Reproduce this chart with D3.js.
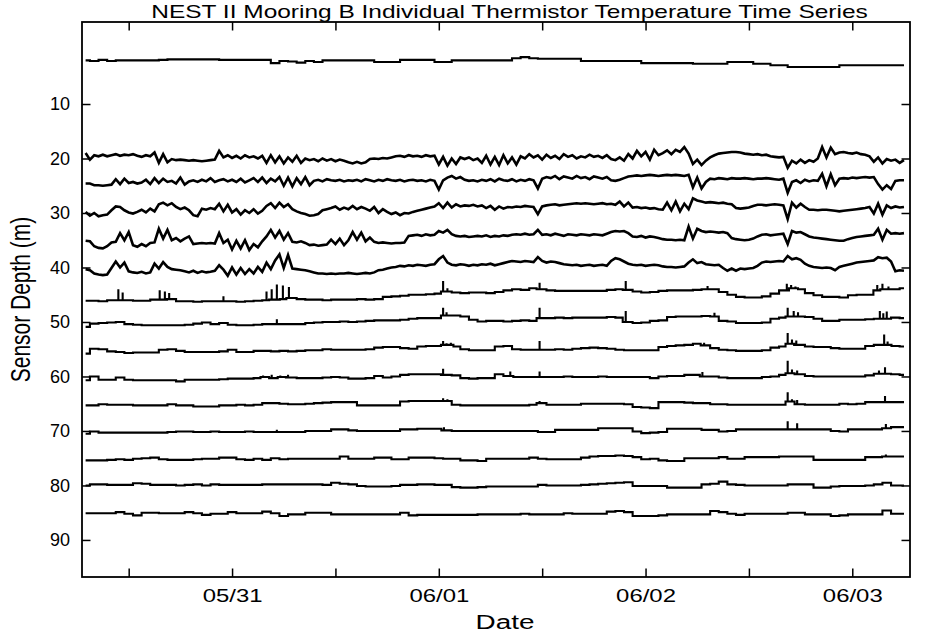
<!DOCTYPE html>
<html><head><meta charset="utf-8">
<script src="https://cdn.jsdelivr.net/npm/d3@7"></script>
<style>
body{margin:0;background:#fff}
svg{display:block}
text{font-family:"Liberation Sans",Arial,Helvetica,sans-serif;fill:#000}
</style>
</head><body>
<svg id="chart" width="930" height="635"></svg>
<script>
// ---------- text ----------
const chartTitle = "NEST II Mooring B Individual Thermistor Temperature Time Series";
const xLabel = "Date";
const yLabel = "Sensor Depth (m)";
const depthTicks = [10, 20, 30, 40, 50, 60, 70, 80, 90];
const dateTickFormat = "%m/%d";

// ---------- time axis (hours after 05/30 00:00) ----------
const axisStartHour = 6.58, axisEndHour = 102.7;
const gridStartHour = 7, gridEndHour = 102;   // each series spans this interval, evenly sampled
const depthDomain = [-5.05, 96.8];

// ---------- line levels (m) ----------
const sensorDepths = [1.9, 20.6, 25.5, 30.3, 35.5, 40.3, 45.0, 49.6, 54.8, 59.9, 64.9, 69.7, 75.0, 80.0, 85.4];
// noisy upper sensors are sampled every half hour and drawn as a plain line;
// the quieter ones are sampled hourly (quantised steps) with separate short spikes [hour, peak]
const noisySeries = [false, true, true, true, true, true, false, false, false, false, false, false, false, false, false];

// ---------- line deviations from level, in decimetres (+ = deeper) ----------
const dev02 = [1,2,0,2,1,1,1,1,1,0,-1,-1,-1,-1,-1,-1,0,0,0,0,0,0,6,2,3,5,2,4,1,1,1,1,1,1,4,4,4,0,0,0,0,4,4,1,1,1,1,1,1,1,-3,-5,-3,-2,-2,-2,-2,-2,2,2,2,2,2,2,2,6,6,6,6,6,6,7,7,7,7,4,4,4,7,7,10,10,13,13,13,13,13,13,10,10,10,10,10,10,10,10];
const dev20 = [-16,-4,-12,-10,-13,-10,-12,-14,-11,-13,
-12,-14,-11,-9,-12,-10,-17,2,-14,1,
-5,-3,-4,-3,-2,-3,-2,-1,-2,-3,
-4,-20,-8,-12,-7,-11,-6,-12,-8,-10,
-6,-11,2,-12,1,-10,3,-8,0,-11,
2,-6,-3,-5,-1,-6,-2,-5,-1,-4,
-2,1,3,0,3,1,-5,-6,-5,-7,
-6,-8,-10,-11,-9,-12,-10,-11,-9,-12,
-10,-11,5,-9,7,-6,4,-8,-5,-8,
-3,-6,2,-11,5,-9,6,-12,3,-8,
5,-10,-6,-14,-8,-12,-4,-13,-7,-11,
-5,-14,-9,-12,-6,-10,-8,-13,-9,-11,
-7,-12,-5,-3,-8,-2,-14,-6,-20,-10,
-18,-4,-22,-12,-16,-21,-14,-22,-18,-27,
-15,4,-4,6,-2,-8,-12,-15,-16,-17,
-18,-18,-17,-15,-14,-13,-14,-12,-13,-10,
-9,-8,-9,11,-2,3,-4,2,-3,0,
-6,-27,-8,-26,-14,-17,-18,-16,-15,-17,
-14,-13,-10,0,-8,3,-5,-2,-4,2,
-3];
const dev25 = [-9,-9,-6,-6,-5,-6,-7,-17,-8,-18,
-10,-12,-9,-11,-16,-8,-19,-10,-18,-12,
-14,-9,-20,-7,-13,-15,-12,-16,-13,-19,
-12,-15,-17,-13,-16,-12,-18,-11,-15,-19,
-12,-20,-10,-18,-13,-21,-5,-20,-4,-19,
-8,-21,-6,-14,-16,-13,-17,-15,-14,-16,
-13,-15,-14,-16,-13,-17,-15,-13,-16,-14,
-17,-15,-14,-16,-13,-15,-16,-14,-15,-13,
-16,-14,2,-15,-20,-23,-18,-21,-16,-14,
-15,-13,-16,-14,-17,-13,-18,-15,-14,-17,
-13,-16,-14,-17,-15,0,-18,-21,-19,-23,
-17,-22,-20,-18,-23,-19,-21,-17,-22,-20,
-18,-21,-15,-14,-16,-19,-22,-23,-24,-23,
-24,-25,-24,-23,-24,-25,-24,-25,-24,-23,
-25,-2,-20,0,-12,-18,-17,-19,-18,-17,
-19,-18,-18,-19,-18,-17,-18,-18,-19,-18,
-17,-16,-18,8,-12,-15,-10,-16,-13,-15,
-14,-27,-4,-26,-6,-18,-19,-18,-20,-19,
-20,-21,-20,-21,-8,2,-6,1,-14,-15,
-15];
const dev30 = [-5,2,-3,3,1,0,-8,-15,-14,-8,
-4,-2,-5,-9,-4,-11,-6,-19,-22,-17,
-21,-14,-10,-13,-8,1,3,-11,-9,-12,
-10,-20,-6,-18,-4,-10,0,-8,-3,-10,
-2,-7,-16,-21,-12,-22,-14,-19,-10,-6,
-3,-1,2,1,-1,-8,-10,-12,-15,-9,
-13,-10,-16,-10,-14,-11,-7,-14,-3,-10,
-5,-1,-4,1,-3,-2,-5,-7,-9,-11,
-13,-15,-21,-12,-22,-13,-19,-15,-17,-16,
-18,-15,-17,-12,-16,-9,-15,-11,-14,-13,
-15,-14,-16,-15,-14,-1,-15,-17,-18,-19,
-17,-18,-19,-20,-21,-20,-21,-20,-19,-20,
-21,-19,-20,-18,-24,-15,-22,-13,-14,-12,
-13,-11,-12,-10,-9,-22,-8,-24,-6,-20,
-10,-30,-26,-24,-22,-23,-22,-21,-22,-20,
-19,-12,-11,-12,-13,-16,-18,-18,-17,-18,
-19,-18,-17,8,-22,-13,-20,-14,-9,-9,
-8,-9,-9,-8,-7,-6,-7,-8,-9,-10,
-11,-12,-14,-2,-20,0,-17,-12,-15,-13,
-14];
const dev35 = [-4,-3,6,9,10,6,-1,-2,-18,-5,
-20,4,7,2,6,0,-1,-26,-8,-24,
-5,-9,-3,-8,-12,2,1,0,1,0,
1,-18,0,-6,12,-4,10,-5,13,2,
8,-3,-12,-24,-10,-22,-6,-18,-2,-1,
-3,0,4,3,5,4,3,-6,2,-8,
4,-5,-20,-6,-19,-3,-10,-2,0,-1,
0,1,0,0,-1,-13,-14,-15,-13,-16,
-14,-15,-22,-19,-24,-16,-13,-12,-13,-11,
-12,-13,-12,-14,-11,-13,-12,-14,-13,-15,
-16,-15,-17,-15,-16,-24,-15,-16,-14,-17,
-15,-13,-16,-15,-14,-16,-15,-14,-16,-15,
-14,-17,-20,-22,-21,-22,-18,-12,-11,-13,
-10,-12,-11,-9,-7,-6,-6,-5,-6,-5,
-30,-8,-26,-22,-20,-21,-20,-19,-20,-18,
-9,-7,-6,-5,-6,-8,-12,-15,-16,-14,
-15,-16,-17,2,-22,-19,-20,-16,-12,-10,
-9,-8,-7,-6,-5,-4,-4,-7,-9,-11,
-12,-13,-14,-15,-26,-6,-24,-17,-18,-17,
-18];
const dev40 = [0,2,8,10,11,10,-2,-14,-3,-12,
4,6,7,5,8,6,-10,-1,-13,-4,
0,1,2,4,6,3,7,4,6,5,
3,-7,1,12,-3,10,-2,9,0,8,
-4,5,-12,0,-16,-27,-2,-26,-1,0,
1,2,4,6,8,8,9,8,9,8,
8,7,8,9,8,7,8,6,2,1,
-1,-3,-4,-6,-5,-7,-6,-8,-7,-6,
-8,-9,-18,-24,-12,-8,-7,-9,-8,-6,
-8,-7,-9,-8,-10,-7,-9,-11,-13,-15,
-14,-13,-15,-14,-13,-22,-15,-12,-14,-13,
-11,-9,-8,-7,-8,-6,-7,-8,-6,-7,
-8,-6,-15,-20,-18,-14,-10,-8,-7,-8,
-6,-7,-8,-7,-5,-4,-4,-3,-4,-5,
-12,-18,-11,-13,-9,-8,-7,-8,-2,3,
-1,3,-1,0,-1,-2,-6,-12,-14,-13,
-14,-15,-14,-24,-18,-20,-17,-10,-6,-4,
-3,-2,-3,-2,2,-4,-6,-8,-10,-12,
-13,-14,-15,-16,-22,-20,-21,-14,4,2,
3];
const dev45 = [11,11,12,10,10,10,11,11,9,9,8,12,12,13,12,12,12,12,13,12,11,10,9,8,6,8,9,9,10,9,9,9,8,9,8,4,3,2,0,0,-1,-2,-6,-4,-3,-4,-4,-3,-5,-8,-10,-9,-12,-10,-8,-7,-7,-7,-7,-7,-7,-9,-10,-9,-6,-4,-5,-7,-8,-8,-8,-9,-10,-10,-5,0,4,5,5,3,-2,-8,-12,-10,-3,1,4,4,5,1,0,0,-8,-10,-10,-12];
const dev50 = [13,7,6,5,4,8,9,10,10,10,10,10,9,7,5,8,6,9,10,10,9,8,8,8,8,8,6,5,4,4,3,4,3,2,1,1,1,0,-2,-3,-3,-3,-8,-8,-6,0,3,2,2,3,2,1,2,-3,-3,-4,-3,-4,-4,-4,-4,-5,-4,4,6,5,2,1,-5,-6,-6,-6,-7,-6,2,3,6,6,6,5,-2,-4,-6,-6,-5,-2,2,2,0,0,0,-1,-2,-2,-4,-3];
const dev55 = [10,1,2,6,7,9,8,8,8,3,2,5,7,7,7,7,6,3,7,7,5,5,6,5,6,5,4,4,2,3,3,3,3,2,-1,-2,-2,0,1,-3,-4,-4,-6,-3,2,4,4,4,-3,-4,2,3,3,3,3,2,3,1,0,-1,0,1,3,4,4,4,4,-2,-4,-5,-6,-8,-5,0,3,4,5,5,5,4,-1,-3,-8,-6,-3,-2,-2,0,1,1,1,-4,-6,-6,-4,-3];
const dev60 = [8,1,7,7,3,7,8,8,8,8,8,10,7,7,7,7,6,5,5,5,4,2,4,2,3,4,4,4,3,2,3,5,5,4,0,3,1,-2,-3,-3,-3,-3,-2,-1,4,5,4,4,-3,0,2,2,2,2,2,2,1,2,2,2,1,2,2,2,2,2,4,1,0,0,-2,-2,1,1,3,4,4,4,4,2,1,-2,-5,-3,0,1,1,1,1,1,1,-1,-4,-4,-3,-2];
const dev65 = [4,4,2,3,3,3,4,4,4,4,2,4,4,6,6,6,4,4,3,4,3,0,0,1,2,2,1,0,-1,-2,-2,-2,4,4,4,4,4,-3,-4,-4,-4,-4,-4,3,4,4,4,4,4,4,4,4,3,0,3,3,3,3,1,1,1,1,1,2,7,8,9,-2,-2,-2,-1,0,0,2,2,3,3,3,3,3,3,3,-3,2,3,3,3,3,1,2,1,-2,-2,-2,-2,-2];
const dev70 = [8,4,6,6,6,6,6,6,6,6,5,4,4,5,5,4,5,5,5,4,5,5,5,5,5,5,3,3,3,0,0,2,3,3,3,3,3,0,0,-1,-1,-1,2,3,3,3,3,3,3,3,3,3,3,5,5,1,1,1,1,1,-2,-2,-2,-2,4,7,6,5,-1,-1,-1,-1,1,1,4,3,0,0,0,0,0,0,0,0,0,0,0,3,4,0,0,0,0,-2,-4,-4];
const dev75 = [4,4,4,3,2,3,1,0,-1,2,3,3,3,2,1,1,-1,-1,2,3,1,3,0,2,1,1,1,1,1,1,-3,1,1,1,-1,-1,2,2,-1,-1,-1,0,1,1,4,4,5,1,1,1,1,1,-1,1,2,2,2,2,-1,-3,-4,-4,-5,-4,-2,2,1,4,5,5,0,0,0,0,-2,1,1,-2,-2,-2,-2,-3,-3,-3,-3,3,3,3,3,3,3,-2,-2,-3,-3,-3];
const dev80 = [0,-2,-2,-1,-1,-1,-4,-3,-1,-1,-1,0,-1,-2,0,-2,-1,-1,-1,-1,-1,-2,-2,-2,-2,-2,-2,-2,-1,-5,-3,-2,1,2,2,2,1,-1,-1,-2,-2,-1,-1,3,4,4,3,2,2,2,2,2,2,-1,0,0,0,0,-1,-2,-3,-4,-5,-6,1,1,1,1,4,4,4,4,-2,-3,-7,-2,-1,0,0,0,0,0,-2,-2,-2,4,4,2,1,1,1,0,-2,-5,0,0];
const dev85 = [-3,-3,-3,-3,-5,-2,1,-4,-4,-3,-3,-3,-5,-3,0,-2,-2,-5,-3,-3,-3,-6,-3,2,-1,-1,-4,-4,-4,-1,-1,-1,-1,-1,-1,-1,-1,-4,1,0,0,0,0,0,0,0,-1,-1,-1,-1,-1,-2,-1,-1,-1,-1,-3,-2,-2,-2,-2,-6,-7,-5,2,2,2,1,-1,-1,-1,-1,-1,-7,-5,-2,0,-2,-2,-2,-2,-2,-4,-4,-1,-1,-1,2,1,-1,-1,-1,-1,-8,-2,-2];

// ---------- short spikes [hour, peak deviation in dm] ----------
const spikes45 = [[10.8,-10],[11.3,-4],[15.6,-8],[16.2,-6],[16.7,-3],[23.0,3],[28.0,-6],[28.6,-10],[29.2,-19],[29.9,-17],[30.6,-14],[48.5,-25],[49.0,-12],[59.7,-22],[69.7,-25],[79.2,-16],[88.4,-20],[88.9,-18],[89.4,-15],[98.9,-18],[99.5,-20],[100.2,-15]];
const spikes50 = [[29.2,-1],[48.5,-22],[48.9,-14],[59.7,-22],[69.7,-16],[80.0,-13],[88.5,-22],[89.2,-16],[89.7,-14],[99.2,-16],[99.6,-12],[100.0,-15]];
const spikes55 = [[48.5,-13],[48.9,-9],[49.4,-10],[59.7,-13],[78.8,-10],[88.5,-28],[89.0,-16],[89.5,-14],[99.7,-25],[100.1,-12]];
const spikes60 = [[27.6,-1],[28.6,-2],[29.6,-1],[30.5,-2],[48.5,-13],[56.3,-8],[59.7,-8],[78.6,-7],[88.5,-28],[89.0,-12],[89.6,-10],[99.1,-10],[99.8,-16]];
const spikes65 = [[48.5,-9],[49.0,-7],[59.7,-4],[88.5,-20],[89.0,-7],[89.6,-6],[99.8,-13]];
const spikes70 = [[29.2,1],[48.6,-4],[88.5,-15],[89.6,-11],[99.9,-10]];
const spikes75 = [[99.9,-7]];

const seriesDev = [dev02, dev20, dev25, dev30, dev35, dev40, dev45, dev50, dev55, dev60, dev65, dev70, dev75, dev80, dev85];
const seriesSpikes = [[], [], [], [], [], [], spikes45, spikes50, spikes55, spikes60, spikes65, spikes70, spikes75, [], []];

// ---------- layout ----------
const L = 82, R = 910, T = 22, B = 577;
const TXT = 1.33; // horizontal stretch of the lettering
const FS = 18, FS_LABEL = 21;
const t0 = Date.UTC(2000, 4, 30);
const hourToDate = h => new Date(t0 + h * 3600e3);

const svg = d3.select("#chart");
svg.append("rect").attr("width", 930).attr("height", 635).attr("fill", "#fff");

const x = d3.scaleUtc().domain([hourToDate(axisStartHour), hourToDate(axisEndHour)]).range([L, R]);
const y = d3.scaleLinear().domain(depthDomain).range([T, B]);

svg.append("clipPath").attr("id", "clip").append("rect")
  .attr("x", L).attr("y", T).attr("width", R - L).attr("height", B - T);

// series
const lineSmooth = d3.line().x(d => x(hourToDate(d.h))).y(d => y(d.d));
const lineStep = d3.line().curve(d3.curveStep).x(d => x(hourToDate(d.h))).y(d => y(d.d));
const gLines = svg.append("g").attr("clip-path", "url(#clip)");
seriesDev.forEach((dev, i) => {
  const step = (gridEndHour - gridStartHour) / (dev.length - 1);
  const level = sensorDepths[i];
  const pts = dev.map((v, j) => ({ h: gridStartHour + j * step, d: level + v / 10, o: 0 }));
  seriesSpikes[i].forEach(([h, pk]) => {
    const j = Math.max(0, Math.min(dev.length - 1, Math.round((h - gridStartHour) / step)));
    const base = level + dev[j] / 10;
    pts.push({ h, d: base, o: 1 }, { h, d: level + pk / 10, o: 2 }, { h, d: base, o: 3 });
  });
  pts.sort((a, b) => a.h - b.h || a.o - b.o);
  gLines.append("path").datum(pts).attr("d", noisySeries[i] ? lineSmooth : lineStep)
    .attr("fill", "none").attr("stroke", "#000")
    .attr("stroke-width", noisySeries[i] ? 2.6 : 2.1)
    .attr("stroke-linejoin", "miter");
});

// axes
const tickEvery = d3.utcHour.every(12);
const fmt = d3.utcFormat(dateTickFormat);
const dateLabel = d => d.getUTCHours() === 0 ? fmt(d) : "";
const TL = 8.5;

const gx = svg.append("g").attr("transform", `translate(0,${B})`)
  .call(d3.axisBottom(x).ticks(tickEvery).tickFormat(dateLabel).tickSizeInner(-TL).tickSizeOuter(0).tickPadding(12.2));
const gxt = svg.append("g").attr("transform", `translate(0,${T})`)
  .call(d3.axisTop(x).ticks(tickEvery).tickFormat("").tickSizeInner(-TL).tickSizeOuter(0));
const gy = svg.append("g").attr("transform", `translate(${L},0)`)
  .call(d3.axisLeft(y).tickValues(depthTicks).tickSizeInner(-TL).tickSizeOuter(0).tickPadding(12));
const gyr = svg.append("g").attr("transform", `translate(${R},0)`)
  .call(d3.axisRight(y).tickValues(depthTicks).tickFormat("").tickSizeInner(-TL).tickSizeOuter(0));

[gx, gxt, gy, gyr].forEach(g => {
  g.select(".domain").remove();
  g.selectAll(".tick line").attr("stroke", "#000").attr("stroke-width", 1.5);
  g.selectAll("text").attr("font-size", FS).attr("font-family", "Liberation Sans, Arial, sans-serif").attr("fill", "#000");
});
gx.selectAll("text").attr("transform", `scale(${TXT},1)`);

// frame
svg.append("rect").attr("x", L).attr("y", T).attr("width", R - L).attr("height", B - T)
  .attr("fill", "none").attr("stroke", "#000").attr("stroke-width", 1.8);

// title and labels
svg.append("text").attr("transform", `translate(509.5,17.5) scale(1.36,1)`)
  .attr("text-anchor", "middle").attr("font-size", FS).text(chartTitle);
svg.append("text").attr("transform", `translate(505,629) scale(${TXT},1)`)
  .attr("text-anchor", "middle").attr("font-size", FS_LABEL).text(xLabel);
svg.append("text").attr("transform", `translate(30,${(T + B) / 2}) rotate(-90) scale(1,${TXT})`)
  .attr("text-anchor", "middle").attr("font-size", FS_LABEL).text(yLabel);
</script>
</body></html>
